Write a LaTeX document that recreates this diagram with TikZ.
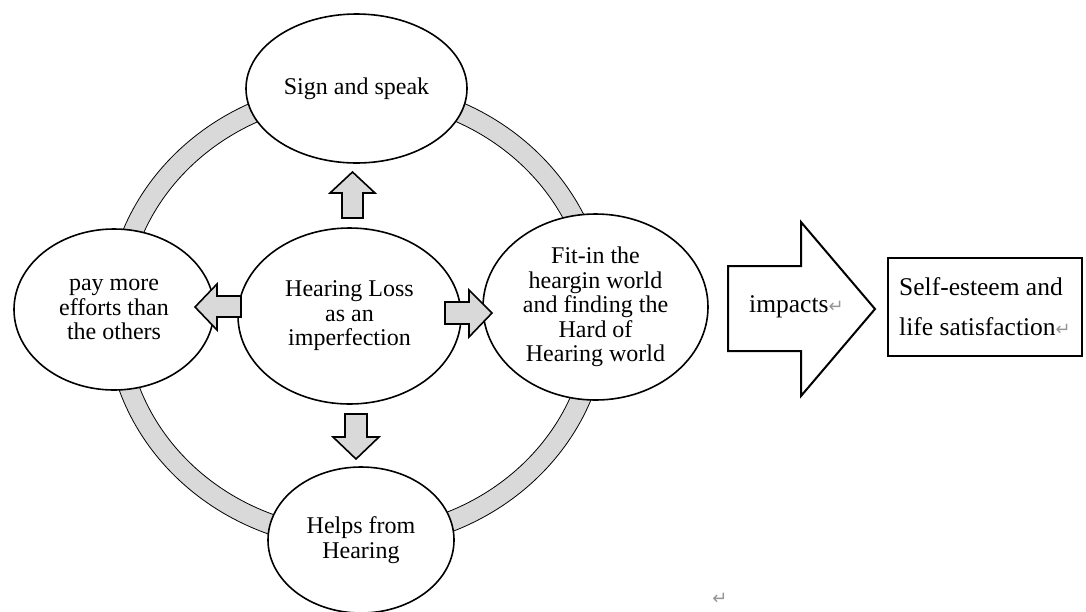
\documentclass[tikz,border=0pt]{standalone}
\usepackage{fontspec}
\setmainfont{Liberation Serif}
\newfontfamily\markfont{DejaVu Sans}
\usetikzlibrary{shapes.geometric}
\definecolor{ringgray}{RGB}{217,217,217}
\definecolor{markgray}{RGB}{150,150,150}
\newcommand{\pmark}{{\markfont\fontsize{18}{18}\selectfont\textcolor{markgray}{↵}}}

\begin{document}
\begin{tikzpicture}[x=1pt, y=-1pt,
  bubble/.style={draw, ellipse, fill=white, line width=1.6pt, inner sep=0pt,
    align=center, font=\fontsize{24}{24.5}\selectfont},
  fatarrow/.style={draw, fill=ringgray, line width=1.6pt, line join=miter}]
\useasboundingbox (0,0) rectangle (1086,611);
% ring behind the bubbles
\fill[ringgray, even odd rule] (357,315) ellipse [x radius=251pt, y radius=234pt]
  (357,315) ellipse [x radius=231pt, y radius=214pt];
\draw[line width=0.8pt] (357,315) ellipse [x radius=251pt, y radius=234pt];
\draw[line width=0.8pt] (357,315) ellipse [x radius=231pt, y radius=214pt];
%
\node[bubble, minimum width=221pt, minimum height=149pt] (sign) at (356.5,88.5) {Sign and speak};
\node[bubble, minimum width=200pt, minimum height=161pt] (effort) at (114,309.5) {pay more\\ efforts than\\ the others};
\node[bubble, minimum width=223pt, minimum height=176pt] (hl) at (349.5,316) {Hearing Loss\\ as an\\ imperfection};
\node[bubble, minimum width=225pt, minimum height=186pt] (fitin) at (595.5,307) {Fit-in the\\ heargin world\\ and finding the\\ Hard of\\ Hearing world};
\node[bubble, minimum width=186pt, minimum height=146pt] (helps) at (361,540) {Helps from\\ Hearing};
%
\draw[fatarrow] (342,218) -- (342,193) -- (330,193) -- (352.5,172) -- (375,193) -- (363,193) -- (363,218) -- cycle;
\draw[fatarrow] (345,414) -- (367,414) -- (367,437) -- (379,437) -- (356,459) -- (333,437) -- (345,437) -- cycle;
\draw[fatarrow] (241,296) -- (217,296) -- (217,284) -- (195,307) -- (217,330) -- (217,317) -- (241,317) -- cycle;
\draw[fatarrow] (445,302) -- (469,302) -- (469,290) -- (492,313) -- (469,337) -- (469,324) -- (445,324) -- cycle;
%
\draw[line width=2pt, line join=miter, fill=white] (728,266) -- (801,266) -- (801,222) -- (875,309)
  -- (801,396) -- (801,351) -- (728,351) -- cycle;
\node[anchor=base west, inner sep=0pt, font=\fontsize{25.5}{26}\selectfont] (imp) at (749,312) {impacts\pmark};
\node[draw, line width=1.6pt, minimum width=194pt, minimum height=98pt, align=left,
  font=\fontsize{25.5}{40}\selectfont] (self) at (985,307) {Self-esteem and\\ life satisfaction\pmark};
\node[inner sep=0pt] (lastmark) at (720,599) {\pmark};
\end{tikzpicture}
\end{document}
